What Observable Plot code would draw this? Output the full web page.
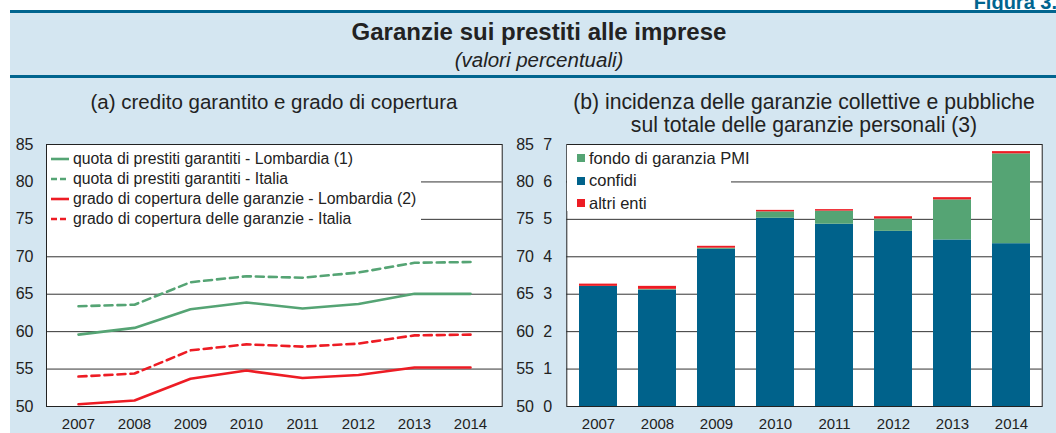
<!DOCTYPE html>
<html><head><meta charset="utf-8">
<script src="https://cdn.jsdelivr.net/npm/d3@7"></script>
<script src="https://cdn.jsdelivr.net/npm/@observablehq/plot@0.6"></script>
<style>
body{margin:0;background:#fff;font-family:Arial,"Liberation Sans",sans-serif;color:#222;}
#root{position:relative;width:1056px;height:433px;overflow:hidden;background:#fff;}
#panel{position:absolute;left:10px;top:10px;width:1046px;height:423px;background:#d4e6f1;border-top:3px solid #00658f;box-sizing:border-box;}
#sep{position:absolute;left:10px;top:75px;width:1046px;height:2.5px;background:#00658f;}
.abs{position:absolute;white-space:nowrap;}
#fig{right:-1px;top:-8px;font-weight:bold;font-size:20px;line-height:20px;color:#00658f;}
#title{left:10px;width:1058px;top:18px;text-align:center;font-weight:bold;font-size:24px;line-height:28px;}
#sub{left:10px;width:1058px;top:49px;text-align:center;font-style:italic;font-size:20.5px;line-height:22px;}
#ta{left:46px;width:456px;top:89.5px;text-align:center;font-size:20.5px;line-height:23px;}
#tb{left:566px;width:476px;top:89.5px;text-align:center;font-size:21.2px;line-height:23px;}
#c1{left:0;top:130px;}
#c2{left:540px;top:130px;}
.leg{position:absolute;background:#fff;}
.row{display:flex;align-items:center;white-space:nowrap;}
.row svg{margin-right:4px;}
.sw{display:inline-block;width:8px;height:8px;margin-right:4px;}
</style>
</head><body>
<div id="root">
  <div class="abs" id="fig">Figura 3.</div>
  <div id="panel"></div>
  <div id="sep"></div>
  <div class="abs" id="title">Garanzie sui prestiti alle imprese</div>
  <div class="abs" id="sub">(valori percentuali)</div>
  <div class="abs" id="ta">(a) credito garantito e grado di copertura</div>
  <div class="abs" id="tb">(b) incidenza delle garanzie collettive e pubbliche<br>sul totale delle garanzie personali (3)</div>
  <div class="abs" id="c1"></div>
  <div class="abs" id="c2"></div>
  <div class="leg" id="leg1" style="left:47px;top:145px;width:374px;height:84px;"></div>
  <div class="leg" id="leg2" style="left:567px;top:145px;width:164px;height:66px;"></div>
</div>
<script>
const years = ["2007","2008","2009","2010","2011","2012","2013","2014"];
const quotaLombardia = [59.6, 60.5, 63.0, 63.9, 63.1, 63.7, 65.05, 65.05];
const quotaItalia = [63.4, 63.6, 66.6, 67.4, 67.2, 67.9, 69.2, 69.3];
const coperturaLombardia = [50.3, 50.8, 53.7, 54.8, 53.8, 54.2, 55.2, 55.2];
const coperturaItalia = [54.0, 54.4, 57.5, 58.3, 58.0, 58.4, 59.5, 59.6];
const yTicksA = [50, 55, 60, 65, 70, 75, 80, 85];

const confidi = [3.21, 3.11, 4.20, 5.03, 4.87, 4.68, 4.45, 4.35];
const fondoPMI = [0.00, 0.02, 0.03, 0.17, 0.35, 0.33, 1.07, 2.40];
const altriEnti = [0.06, 0.08, 0.05, 0.04, 0.04, 0.06, 0.06, 0.06];
const yTicksB = [0, 1, 2, 3, 4, 5, 6, 7];

const lineSeries = [
  {name: "quota di prestiti garantiti - Lombardia (1)", values: quotaLombardia, color: "#55a474", dash: null},
  {name: "quota di prestiti garantiti - Italia", values: quotaItalia, color: "#55a474", dash: "8,5"},
  {name: "grado di copertura delle garanzie - Lombardia (2)", values: coperturaLombardia, color: "#ed1c24", dash: null},
  {name: "grado di copertura delle garanzie - Italia", values: coperturaItalia, color: "#ed1c24", dash: "8,5"}
];
const barSeries = [
  {name: "confidi", values: confidi, color: "#00628b"},
  {name: "fondo di garanzia PMI", values: fondoPMI, color: "#55a474"},
  {name: "altri enti", values: altriEnti, color: "#ed1c24"}
];
const legendOrderB = ["fondo di garanzia PMI", "confidi", "altri enti"];

const font = 'Arial, "Liberation Sans", sans-serif';

// Chart (a)
const lineMarks = lineSeries.map(s => Plot.line(years.map((y, i) => ({year: y, v: s.values[i]})), {
  x: "year", y: "v", stroke: s.color, strokeWidth: 2.6, strokeDasharray: s.dash, curve: "linear"
}));
const chartA = Plot.plot({
  width: 540, height: 303,
  marginLeft: 46, marginRight: 38.3, marginTop: 14, marginBottom: 27,
  style: {background: "transparent", fontFamily: font, color: "#222", overflow: "visible"},
  x: {type: "point", domain: years, padding: 0.5, label: null},
  y: {domain: [50, 85], label: null},
  marks: [
    Plot.frame({fill: "white", stroke: null}),
    Plot.gridY(yTicksA.slice(1, -1), {stroke: "#333", strokeOpacity: 1}),
    Plot.axisY(yTicksA, {anchor: "left", tickSize: 0, tickPadding: 13, fontSize: 16, label: null}),
    Plot.axisY(yTicksA, {anchor: "right", tickSize: 0, tickPadding: 14, fontSize: 16, label: null}),
    Plot.axisX({tickSize: 0, tickPadding: 12, fontSize: 15, label: null}),
    ...lineMarks,
    Plot.frame({stroke: "#222"})
  ]
});
document.getElementById("c1").appendChild(chartA);

// Chart (b)
const barData = [];
barSeries.forEach(s => years.forEach((y, i) => barData.push({year: y, serie: s.name, v: s.values[i]})));
const chartB = Plot.plot({
  width: 516, height: 303,
  marginLeft: 26.3, marginRight: 14.3, marginTop: 14, marginBottom: 27,
  style: {background: "transparent", fontFamily: font, color: "#222", overflow: "visible"},
  x: {type: "band", domain: years, paddingInner: 0.36, paddingOuter: 0.18, label: null},
  y: {domain: [0, 7], label: null},
  color: {domain: barSeries.map(s => s.name), range: barSeries.map(s => s.color)},
  marks: [
    Plot.frame({fill: "white", stroke: null}),
    Plot.gridY(yTicksB.slice(1, -1), {stroke: "#333", strokeOpacity: 1}),
    Plot.axisY(yTicksB, {anchor: "left", tickSize: 0, tickPadding: 14.6, fontSize: 16, label: null}),
    Plot.axisX({tickSize: 0, tickPadding: 12, fontSize: 15, label: null}),
    Plot.barY(barData, Plot.stackY({x: "year", y: "v", fill: "serie", order: barSeries.map(s => s.name)})),
    Plot.frame({stroke: "#222"})
  ]
});
document.getElementById("c2").appendChild(chartB);

// Legends
const leg1 = document.getElementById("leg1");
lineSeries.forEach((s, i) => {
  const r = document.createElement("div");
  r.className = "row";
  r.style.position = "absolute"; r.style.left = "4px"; r.style.top = (4 + i * 20) + "px"; r.style.height = "20px"; r.style.fontSize = "15.8px";
  r.innerHTML = `<svg width="18" height="6"><line x1="0" x2="18" y1="3" y2="3" stroke="${s.color}" stroke-width="2.6" ${s.dash ? 'stroke-dasharray="6,3"' : ''}/></svg><span>${s.name}</span>`;
  leg1.appendChild(r);
});
const leg2 = document.getElementById("leg2");
legendOrderB.forEach((n, i) => {
  const s = barSeries.find(d => d.name === n);
  const r = document.createElement("div");
  r.className = "row";
  r.style.position = "absolute"; r.style.left = "10px"; r.style.top = (3 + i * 22.5) + "px"; r.style.height = "20px"; r.style.fontSize = "16.5px";
  r.innerHTML = `<span class="sw" style="background:${s.color}"></span><span>${s.name}</span>`;
  leg2.appendChild(r);
});
</script>
</body></html>
